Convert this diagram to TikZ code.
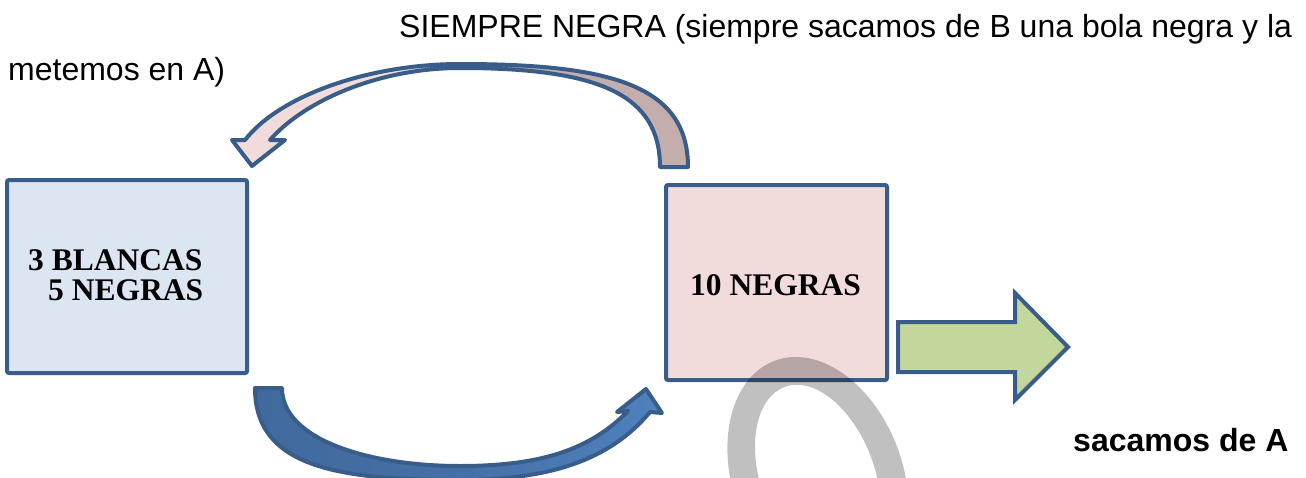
\documentclass[tikz,border=0pt]{standalone}
\usepackage{fontspec}
\setmainfont{Liberation Serif}
\newfontfamily\arialfont{Liberation Sans}
\definecolor{edgeblue}{HTML}{385D8A}
\definecolor{boxAfill}{HTML}{DCE6F2}
\definecolor{boxBfill}{HTML}{F2DCDB}
\definecolor{topdark}{HTML}{C4AEAC}
\definecolor{botlight}{HTML}{4F81BD}
\definecolor{botdark}{HTML}{41699D}
\definecolor{greenfill}{HTML}{C3D69B}
\definecolor{wmgray}{HTML}{C0C0C0}
\newcommand\TopArrowPath{(660,167) .. controls (660,95) and (600,68) .. (460,68)
  .. controls (380,68) and (305,100) .. (270,140) -- (285,140) -- (252,166) -- (232,140) -- (245,140)
  .. controls (280,95) and (370,64) .. (460,64) .. controls (610,64) and (688,85) .. (688,167) -- cycle}
\newcommand\BotArrowPath{(255,388) -- (282,388) .. controls (282,440) and (370,466) .. (460,466)
  .. controls (540,466) and (590,450) .. (628,411) -- (617,412) -- (646,389) -- (662,413) -- (650,412)
  .. controls (610,460) and (550,480) .. (460,480) .. controls (340,480) and (255,468) .. (255,388) -- cycle}
\tikzset{
  boxshape/.style={draw=edgeblue, line width=4pt, rounded corners=2pt, inner sep=0pt},
  serifbold/.style={inner sep=0pt, font=\fontsize{31.5}{36}\selectfont\bfseries},
  sanstext/.style={inner sep=0pt, font=\arialfont\fontsize{32}{38}\selectfont},
  shapeedge/.style={draw=edgeblue, line width=4pt, line join=round},
}
\begin{document}
\begin{tikzpicture}[x=1pt, y=-1pt]
\useasboundingbox (0,0) rectangle (1306,477);
\fill[white] (0,0) rectangle (1306,477);
\clip (0,0) rectangle (1306,477);

% boxes
\node[boxshape, fill=boxAfill, minimum width=240pt, minimum height=193pt] (A) at (127,276.5) {};
\node[boxshape, fill=boxBfill, minimum width=221pt, minimum height=195pt] (B) at (776.5,282.5) {};

% texts in boxes
\node[serifbold, anchor=base west] (a1) at (28,270) {3 BLANCAS};
\node[serifbold, anchor=base west] (a2) at (48,300) {5 NEGRAS};
\node[serifbold, anchor=base west] (b1) at (690,295) {10 NEGRAS};

% top curved arrow (from B to A)
\fill[boxBfill] \TopArrowPath;
\begin{scope}
  \clip (460,0) rectangle (1306,477);
  \fill[topdark] \TopArrowPath;
\end{scope}
\draw[shapeedge] \TopArrowPath;

% bottom curved arrow (from A to B)
\shade[left color=botdark, right color=botlight, middle color=botdark!70!botlight] \BotArrowPath;
\draw[shapeedge] \BotArrowPath;

% green block arrow
\draw[shapeedge, line join=miter, fill=greenfill] (898,322) -- (1015,322) -- (1015,293) -- (1068,347)
  -- (1015,400) -- (1015,372) -- (898,372) -- cycle;

% watermark ring
\begin{scope}[blend mode=multiply]
  \begin{scope}[shift={(818,478)}, rotate=-70]
    \fill[wmgray, even odd rule] (0,0) ellipse [x radius=125, y radius=85]
      (0,0) ellipse [x radius=97, y radius=57];
  \end{scope}
\end{scope}

% texts
\node[sanstext, anchor=base west] (t1) at (399,37) {SIEMPRE NEGRA (siempre sacamos de B una bola negra y la};
\node[sanstext, anchor=base west] (t2) at (8,80) {metemos en A)};
\node[sanstext, font=\arialfont\fontsize{32}{38}\selectfont\bfseries, anchor=base west] (t3) at (1073,451) {sacamos de A};
\end{tikzpicture}
\end{document}
